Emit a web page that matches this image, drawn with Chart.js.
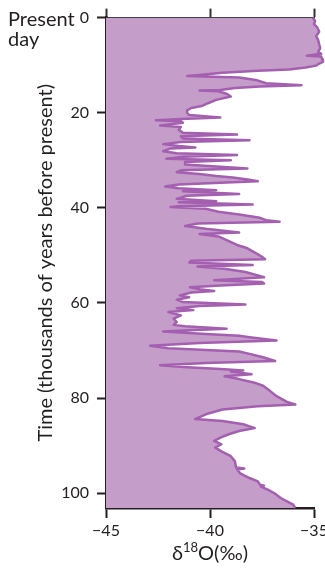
<!DOCTYPE html>
<html>
<head>
<meta charset="utf-8">
<script src="https://cdn.jsdelivr.net/npm/chart.js@4.4.0/dist/chart.umd.min.js"></script>
<style>
  body { margin: 0; background: #fff; }
  #wrap { position: relative; width: 325px; height: 568px; font-family: Lato, sans-serif; color: #231f20; }
  #present { position: absolute; left: 8px; top: 8px; font-size: 20px; line-height: 20px; }
  #xtitle { position: absolute; left: 110px; width: 200px; top: 540px; text-align: center; font-size: 20px; line-height: 24px; }
  #xtitle span { font-size: 13px; position: relative; top: -8px; }
</style>
</head>
<body>
<div id="wrap">
  <canvas id="mycanvas" width="325" height="568"></canvas>
  <div id="present">Present<br>day</div>
  <div id="xtitle">δ<span>18</span>O(‰)</div>
</div>
<script>
// age in thousands of years before present
var ages = [
  0, 0.7, 1.4, 2.0, 3.0, 3.9, 4.7, 5.6, 6.4, 7.2,
  7.6, 8.0, 8.2, 8.8, 9.3, 9.8, 10.1, 10.5, 10.9, 11.2,
  11.6, 12.0, 12.3, 12.6, 13.1, 13.8, 14.2, 14.5, 14.8, 15.2,
  15.35, 15.5, 16.0, 16.6, 17.3, 18.0, 18.6, 19.0, 19.5, 20.0,
  20.5, 21.0, 21.3, 21.6, 21.8, 22.1, 22.7, 23.0, 23.6, 24.2,
  24.6, 24.95, 25.4, 25.8, 26.15, 26.6, 27.0, 27.3, 27.5, 28.1,
  28.5, 28.9, 29.25, 29.7, 30.0, 30.35, 30.9, 31.7, 32.1, 32.5,
  32.9, 33.3, 33.6, 34.1, 34.4, 34.7, 35.1, 35.5, 35.9, 36.3,
  36.5, 37.1, 37.45, 38.1, 38.6, 38.8, 39.3, 39.65, 39.8, 40.2,
  40.8, 41.4, 42.1, 42.6, 42.9, 43.3, 43.8, 44.4, 45.2, 45.5,
  46.0, 46.8, 47.8, 48.5, 49.5, 50.3, 50.8, 51.1, 51.5, 52.0,
  52.35, 52.8, 53.5, 54.2, 54.6, 55.2, 55.6, 55.9, 56.3, 56.7,
  57.1, 57.5, 57.8, 58.4, 58.8, 59.3, 59.8, 60.3, 60.65, 61.1,
  61.5, 61.9, 62.6, 63.3, 64.0, 64.6, 64.9, 65.4, 65.75, 66.0,
  66.5, 66.9, 67.2, 67.9, 68.4, 69.0, 69.5, 69.9, 70.2, 70.7,
  71.4, 72.2, 72.6, 73.1, 73.5, 73.9, 74.2, 74.4, 75.0, 75.4,
  76.0, 76.7, 77.4, 78.2, 78.9, 79.6, 80.3, 80.8, 81.35, 81.7,
  82.4, 83.4, 84.4, 84.8, 85.5, 86.3, 86.9, 87.6, 88.3, 89.0,
  89.7, 90.4, 91.2, 92.2, 93.3, 94.6, 94.8, 95.0, 95.8, 96.8,
  97.5, 98.2, 98.4, 98.6, 99.3, 100.0, 101.0, 101.7, 102.4, 103.1
];
// delta 18O (per mil)
var d18O = [
  -35.06, -34.95, -35.0, -34.85, -34.75, -34.9, -34.8, -34.75, -34.7, -34.8,
  -34.65, -35.35, -34.65, -34.6, -34.57, -34.8, -34.9, -35.4, -36.2, -37.7,
  -39.4, -40.4, -41.1, -38.6, -37.8, -37.3, -35.6, -37.6, -38.8, -39.5,
  -40.5, -39.6, -39.2, -39.0, -39.7, -40.1, -40.4, -40.9, -41.1, -41.1,
  -41.0, -39.5, -41.4, -42.6, -41.4, -41.3, -42.4, -41.4, -41.5, -41.3,
  -38.7, -41.4, -41.3, -38.1, -41.4, -42.25, -41.5, -40.7, -41.9, -42.25,
  -41.6, -38.7, -41.3, -42.1, -39.0, -41.2, -41.2, -38.2, -41.4, -41.6,
  -40.5, -39.7, -38.9, -38.1, -37.7, -39.5, -41.5, -42.15, -41.5, -39.7,
  -41.3, -38.6, -41.1, -41.6, -39.7, -41.5, -37.95, -41.5, -41.9, -40.2,
  -39.6, -38.6, -37.6, -37.3, -36.65, -40.6, -41.2, -40.2, -38.6, -40.5,
  -39.6, -39.2, -38.7, -38.2, -37.8, -37.5, -37.35, -40.9, -41.0, -37.95,
  -40.6, -39.3, -38.3, -37.7, -37.4, -39.8, -37.5, -37.4, -39.5, -40.96,
  -40.5, -39.8, -40.9, -41.45, -41.0, -41.6, -41.3, -38.3, -40.5, -41.6,
  -40.8, -42.0, -41.4, -41.75, -41.6, -41.75, -41.2, -39.2, -41.0, -42.25,
  -40.2, -38.6, -38.1, -36.8, -40.5, -42.88, -42.0, -40.2, -38.6, -38.1,
  -37.45, -36.87, -40.2, -42.4, -41.1, -39.5, -38.4, -39.0, -38.0, -39.3,
  -38.6, -37.9, -37.45, -37.2, -37.0, -36.8, -36.5, -36.3, -35.9, -37.7,
  -39.4, -40.2, -40.72, -39.4, -38.4, -37.85, -38.6, -39.1, -39.5, -39.8,
  -39.45, -39.75, -39.45, -39.0, -38.8, -38.75, -38.35, -38.7, -38.55, -38.1,
  -37.7, -37.6, -37.4, -37.55, -37.2, -36.9, -36.6, -36.3, -36.0, -35.9
];
var xTicks = [-45, -40, -35];
var xTickLabels = ['\u221245', '\u221240', '\u221235'];
var yTicks = [0, 20, 40, 60, 80, 100];
var yTickLabels = ['0', '20', '40', '60', '80', '100'];

var dark = '#231f20';
var points = ages.map(function(t, i) { return {x: d18O[i], y: t}; });

// let the fill run a little past the right end of the axis, like the curve does
var widenArea = {
    id: 'widenArea',
    beforeDatasetsDraw: function(chart) { chart.chartArea.right += 12; },
    afterDatasetsDraw: function(chart) { chart.chartArea.right -= 12; }
};

var ctx = document.getElementById('mycanvas');
var chart = new Chart(ctx, {
    type: 'line',
    data: {
        datasets: [{
            data: points,
            borderColor: '#a45fb0',
            backgroundColor: '#c49ec8',
            borderWidth: 2.5,
            pointRadius: 0,
            borderJoinStyle: 'round',
            fill: {value: -45},
            clip: false
        }]
    },
    options: {
        indexAxis: 'y',
        responsive: false,
        animation: false,
        layout: {padding: {left: 0, right: 11, top: 0, bottom: 0}},
        plugins: {legend: {display: false}, tooltip: {enabled: false}},
        scales: {
            x: {
                type: 'linear', position: 'bottom', min: -45, max: -35,
                afterBuildTicks: function(s) { s.ticks = xTicks.map(function(v) { return {value: v}; }); },
                afterFit: function(s) { s.height = 60; s.paddingRight = 0; s.paddingLeft = 0; },
                ticks: {
                    callback: function(v, i) { return xTickLabels[i]; },
                    font: {family: 'Lato', size: 16}, color: dark, padding: 3,
                    maxRotation: 0, autoSkip: false
                },
                grid: {drawOnChartArea: false, tickLength: 10, tickWidth: 2, tickColor: dark},
                border: {color: dark, width: 2.5}
            },
            x2: {
                type: 'linear', position: 'top', min: -45, max: -35,
                afterBuildTicks: function(s) { s.ticks = xTicks.map(function(v) { return {value: v}; }); },
                afterFit: function(s) { s.height = 17; s.paddingRight = 0; s.paddingLeft = 0; },
                ticks: {display: false},
                grid: {drawOnChartArea: false, tickLength: 9, tickWidth: 2, tickColor: '#333'},
                border: {color: '#333', width: 2}
            },
            y: {
                type: 'linear', reverse: true, min: 0, max: 103.1,
                afterBuildTicks: function(s) { s.ticks = yTicks.map(function(v) { return {value: v}; }); },
                afterFit: function(s) { s.width = 106; },
                ticks: {
                    callback: function(v, i) { return yTickLabels[i]; },
                    font: {family: 'Lato', size: 16}, color: dark, padding: 8, autoSkip: false
                },
                grid: {drawOnChartArea: false, tickLength: 9, tickWidth: 2, tickColor: dark},
                border: {color: dark, width: 2.5},
                title: {
                    display: true,
                    text: 'Time (thousands of years before present)',
                    font: {family: 'Lato', size: 20}, color: dark,
                    padding: {top: 34, bottom: 0}
                }
            }
        }
    },
    plugins: [widenArea]
});
</script>
</body>
</html>
